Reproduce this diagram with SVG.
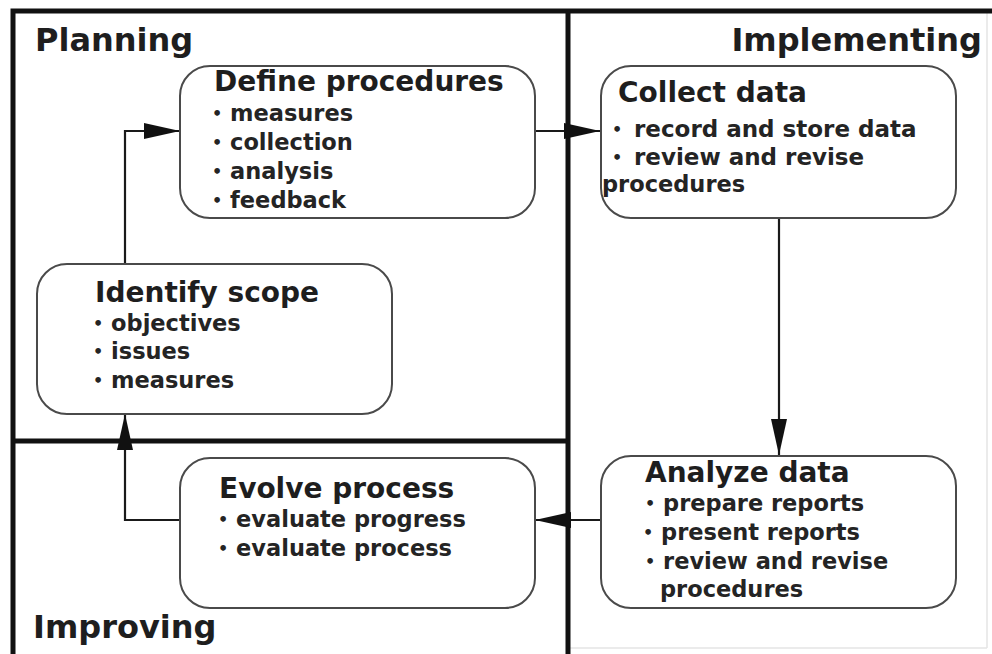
<svg xmlns="http://www.w3.org/2000/svg" width="992" height="654" viewBox="0 0 992 654">
  <style>
    .frame { stroke: #111; stroke-width: 5; fill: none; }
    .faint { stroke: #e4e4e4; stroke-width: 1.5; fill: none; }
    .box { fill: #fff; stroke: #4a4a4a; stroke-width: 2; }
    .conn { stroke: #1a1a1a; stroke-width: 2.2; fill: none; }
    .head { font-family: "DejaVu Sans", "Verdana", sans-serif; font-weight: bold; font-size: 32px; fill: #1e1e1e; }
    .title { font-family: "DejaVu Sans", "Verdana", sans-serif; font-weight: bold; font-size: 28px; fill: #1e1e1e; }
    .item { font-family: "DejaVu Sans", "Verdana", sans-serif; font-weight: bold; font-size: 22.5px; fill: #242424; }
    .big { font-size: 23px; }
    .dot { font-size: 16px; }
  </style>
  <defs>
    <marker id="arrow" viewBox="0 0 36 16" refX="36" refY="8" markerWidth="36" markerHeight="16" markerUnits="userSpaceOnUse" orient="auto">
      <path d="M0,0 L36,8 L0,16 Z" fill="#111"/>
    </marker>
  </defs>

  <rect width="992" height="654" fill="#fff"/>

  <!-- swimlane frame -->
  <g id="lanes">
    <line class="faint" x1="987" y1="12" x2="987" y2="648"/>
    <line class="faint" x1="570" y1="648" x2="987" y2="648"/>
    <polyline class="frame" points="13,654 13,11 992,11"/>
    <line class="frame" x1="568" y1="11" x2="568" y2="654"/>
    <line class="frame" x1="13" y1="441" x2="568" y2="441"/>
    <text class="head" x="35" y="51">Planning</text>
    <text class="head" x="982" y="51" text-anchor="end">Implementing</text>
    <text class="head" x="33" y="638">Improving</text>
  </g>

  <!-- connectors -->
  <g id="connectors">
    <polyline class="conn" points="125,264 125,131 180,131" marker-end="url(#arrow)"/>
    <line class="conn" x1="535" y1="131" x2="600" y2="131" marker-end="url(#arrow)"/>
    <line class="conn" x1="779" y1="218" x2="779" y2="455" stroke-width="3" marker-end="url(#arrow)"/>
    <line class="conn" x1="600" y1="520" x2="535" y2="520" marker-end="url(#arrow)"/>
    <polyline class="conn" points="180,520 125,520 125,414" marker-end="url(#arrow)"/>
  </g>

  <g id="define-procedures">
    <rect class="box" x="180" y="66" width="355" height="152" rx="30" ry="30"/>
    <text class="title" x="214" y="91">Define procedures</text>
    <text class="item" x="212" y="121"><tspan class="dot" dy="-2">•</tspan><tspan dy="2"> measures</tspan></text>
    <text class="item" x="212" y="150"><tspan class="dot" dy="-2">•</tspan><tspan dy="2"> collection</tspan></text>
    <text class="item" x="212" y="179"><tspan class="dot" dy="-2">•</tspan><tspan dy="2"> analysis</tspan></text>
    <text class="item" x="212" y="208"><tspan class="dot" dy="-2">•</tspan><tspan dy="2"> feedback</tspan></text>
  </g>

  <g id="collect-data">
    <rect class="box" x="601" y="66" width="355" height="152" rx="30" ry="30"/>
    <text class="title" x="618" y="102">Collect data</text>
    <text class="item big" x="612" y="137"><tspan class="dot" dy="-2">•</tspan><tspan x="634" dy="2">record and store data</tspan></text>
    <text class="item big" x="612" y="165"><tspan class="dot" dy="-2">•</tspan><tspan x="634" dy="2">review and revise</tspan></text>
    <text class="item" x="602" y="192" font-size="24">procedures</text>
  </g>

  <g id="identify-scope">
    <rect class="box" x="37" y="264" width="355" height="150" rx="30" ry="30"/>
    <text class="title" x="95" y="302">Identify scope</text>
    <text class="item" x="93" y="331"><tspan class="dot" dy="-2">•</tspan><tspan dy="2"> objectives</tspan></text>
    <text class="item" x="93" y="359"><tspan class="dot" dy="-2">•</tspan><tspan dy="2"> issues</tspan></text>
    <text class="item" x="93" y="388"><tspan class="dot" dy="-2">•</tspan><tspan dy="2"> measures</tspan></text>
  </g>

  <g id="evolve-process">
    <rect class="box" x="180" y="458" width="355" height="150" rx="30" ry="30"/>
    <text class="title" x="219" y="498">Evolve process</text>
    <text class="item" x="218" y="527"><tspan class="dot" dy="-2">•</tspan><tspan dy="2"> evaluate progress</tspan></text>
    <text class="item" x="218" y="556"><tspan class="dot" dy="-2">•</tspan><tspan dy="2"> evaluate process</tspan></text>
  </g>

  <g id="analyze-data">
    <rect class="box" x="601" y="456" width="355" height="152" rx="30" ry="30"/>
    <text class="title" x="645" y="482">Analyze data</text>
    <text class="item" x="645" y="511"><tspan class="dot" dy="-2">•</tspan><tspan dy="2"> prepare reports</tspan></text>
    <text class="item" x="643" y="540"><tspan class="dot" dy="-2">•</tspan><tspan dy="2"> present reports</tspan></text>
    <text class="item" x="645" y="569"><tspan class="dot" dy="-2">•</tspan><tspan dy="2"> review and revise</tspan></text>
    <text class="item" x="660" y="597">procedures</text>
  </g>
</svg>
